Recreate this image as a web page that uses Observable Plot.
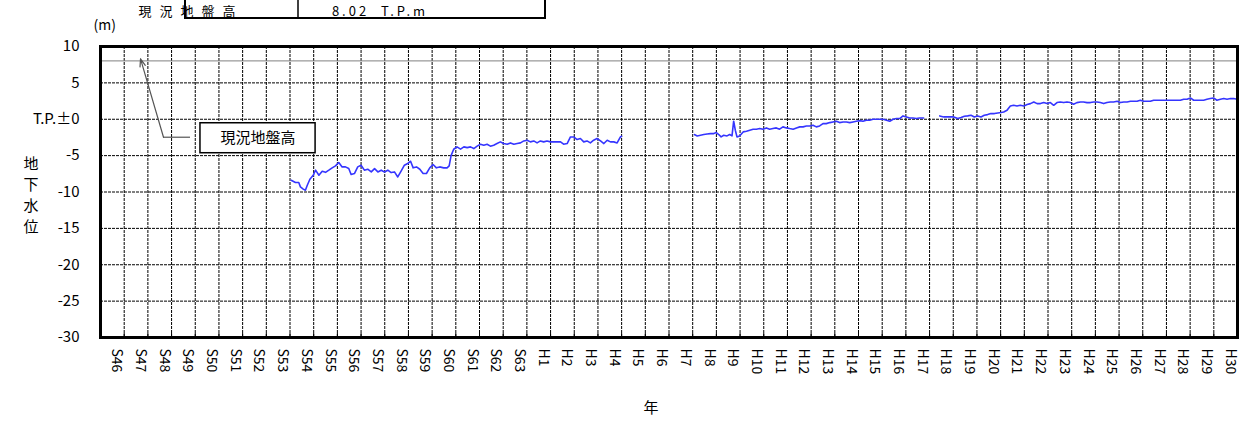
<!DOCTYPE html>
<html><head><meta charset="utf-8">
<script src="https://cdn.jsdelivr.net/npm/d3@7"></script>
<script src="https://cdn.jsdelivr.net/npm/@observablehq/plot@0.6"></script>
<style>body{margin:0;background:#fff;} #chart svg{display:block}</style>
</head><body><div id="chart"></div>
<script>
// ---- data ----
const yearLabels = ["S46","S47","S48","S49","S50","S51","S52","S53","S54","S55","S56","S57","S58","S59","S60","S61","S62","S63",
  "H1","H2","H3","H4","H5","H6","H7","H8","H9","H10","H11","H12","H13","H14","H15","H16","H17","H18","H19","H20",
  "H21","H22","H23","H24","H25","H26","H27","H28","H29","H30"];
const startYear = 1971; // S46
const yTicks = [10, 5, 0, -5, -10, -15, -20, -25, -30];
const yTickLabels = ["10", "5", "T.P.±0", "-5", "-10", "-15", "-20", "-25", "-30"];
const groundLevel = 8.02;
const groundLabel = "現況地盤高";
const groundValueText = "8.02  T.P.m";

// decimal year, groundwater level (T.P. m)
const seg1 = [[1979.05,-8.38],[1979.23,-8.7],[1979.37,-8.7],[1979.44,-9.3],[1979.56,-9.6],[1979.65,-9.75],[1979.73,-9.07],[1979.84,-8.24],[1979.98,-7.7],
[1980.08,-7.0],[1980.22,-7.7],[1980.36,-7.14],[1980.5,-7.3],[1980.64,-7.0],[1980.78,-6.68],[1980.92,-6.4],[1981.06,-5.95],[1981.2,-6.55],[1981.34,-6.55],
[1981.48,-6.78],[1981.58,-7.6],[1981.72,-7.46],[1981.86,-6.55],[1982.0,-6.32],[1982.14,-7.0],[1982.28,-6.87],[1982.43,-7.24],[1982.57,-6.78],[1982.71,-7.24],
[1982.85,-7.0],[1982.99,-7.24],[1983.13,-7.0],[1983.27,-7.33],[1983.41,-7.24],[1983.55,-7.93],[1983.69,-7.14],[1983.83,-6.32],[1983.97,-6.09],[1984.09,-5.77],
[1984.2,-6.68],[1984.34,-6.55],[1984.48,-6.87],[1984.62,-7.46],[1984.76,-7.46],[1984.9,-6.68],[1985.04,-6.22],[1985.18,-6.68],[1985.32,-6.55],[1985.49,-6.68],
[1985.63,-6.68],[1985.72,-6.4],[1985.8,-5.0],[1985.91,-4.12],[1986.05,-3.8],[1986.2,-4.1],[1986.34,-3.8],[1986.48,-3.9],[1986.62,-3.8],[1986.76,-4.03],[1986.9,-3.7],
[1987.04,-3.43],[1987.18,-3.57],[1987.32,-3.43],[1987.46,-3.7],[1987.6,-3.57],[1987.74,-3.34],[1987.88,-3.11],[1988.02,-3.34],[1988.17,-3.43],[1988.31,-3.25],
[1988.45,-3.43],[1988.59,-3.34],[1988.73,-3.25],[1988.87,-2.98],[1989.01,-2.88],[1989.15,-3.11],[1989.29,-2.98],[1989.43,-3.25],[1989.57,-2.98],[1989.71,-3.11],
[1989.85,-2.98],[1990.0,-3.11],[1990.14,-3.11],[1990.27,-3.11],[1990.42,-3.11],[1990.55,-3.43],[1990.7,-3.34],[1990.84,-2.43],[1990.98,-2.43],[1991.12,-2.79],
[1991.26,-2.65],[1991.4,-3.11],[1991.54,-2.98],[1991.68,-3.25],[1991.82,-2.88],[1991.96,-2.65],[1992.11,-2.98],[1992.25,-3.34],[1992.39,-2.88],[1992.53,-3.11],
[1992.67,-3.11],[1992.81,-3.25],[1992.95,-2.43],[1993.0,-2.34]];
const seg2 = [[1996.07,-2.1],[1996.19,-2.29],[1996.33,-2.2],[1996.47,-2.1],[1996.61,-2.02],[1996.75,-1.97],[1996.89,-1.97],[1997.0,-1.83],[1997.1,-2.1],
[1997.2,-2.43],[1997.31,-2.2],[1997.45,-2.29],[1997.56,-2.1],[1997.66,-2.29],[1997.73,-0.27],[1997.8,-1.51],[1997.87,-2.43],[1997.98,-2.29],[1998.13,-1.74],
[1998.27,-1.65],[1998.41,-1.51],[1998.55,-1.37],[1998.69,-1.37],[1998.83,-1.28],[1998.97,-1.37],[1999.11,-1.19],[1999.25,-1.37],[1999.39,-1.28],[1999.53,-1.19],
[1999.67,-1.37],[1999.81,-1.05],[1999.96,-1.19],[2000.09,-1.28],[2000.24,-1.37],[2000.38,-1.19],[2000.52,-1.05],[2000.66,-1.05],[2000.8,-0.92],[2000.94,-0.92],
[2001.08,-0.82],[2001.22,-1.05],[2001.36,-0.92],[2001.5,-0.6],[2001.64,-0.6],[2001.79,-0.46],[2001.92,-0.37],[2002.07,-0.27],[2002.2,-0.46],[2002.35,-0.37],
[2002.49,-0.37],[2002.63,-0.46],[2002.77,-0.37],[2002.91,-0.27],[2003.05,-0.19],[2003.19,-0.27],[2003.33,-0.14],[2003.47,-0.14],[2003.61,0.0],[2003.75,0.0],
[2003.9,0.0],[2004.04,0.0],[2004.18,-0.14],[2004.32,-0.27],[2004.46,0.0],[2004.6,0.1],[2004.74,0.1],[2004.88,0.46],[2005.02,0.32],[2005.16,0.18],[2005.3,0.18],
[2005.44,0.1],[2005.58,0.18],[2005.75,0.18]];
const seg3 = [[2006.43,0.46],[2006.6,0.32],[2006.81,0.32],[2007.02,0.32],[2007.19,0.1],[2007.33,0.23],[2007.47,0.41],[2007.61,0.46],[2007.75,0.55],[2007.89,0.32],
[2008.03,0.46],[2008.17,0.32],[2008.31,0.55],[2008.45,0.64],[2008.59,0.78],[2008.74,0.78],[2008.88,0.87],[2009.02,0.92],[2009.13,1.0],[2009.27,1.24],[2009.41,1.83],
[2009.55,1.92],[2009.69,1.83],[2009.83,1.92],[2009.98,1.83],[2010.12,2.02],[2010.26,2.15],[2010.4,2.38],[2010.54,2.15],[2010.68,2.15],[2010.82,2.29],[2010.96,2.15],
[2011.1,2.29],[2011.24,1.92],[2011.38,2.29],[2011.52,2.38],[2011.66,2.29],[2011.8,2.38],[2011.94,2.29],[2012.08,2.06],[2012.22,2.29],[2012.37,2.38],[2012.5,2.38],
[2012.65,2.29],[2012.79,2.29],[2012.93,2.38],[2013.07,2.38],[2013.21,2.29],[2013.35,2.15],[2013.49,2.29],[2013.63,2.38],[2013.77,2.38],[2013.92,2.47],[2014.06,2.29],
[2014.2,2.38],[2014.34,2.38],[2014.48,2.47],[2014.62,2.47],[2014.76,2.47],[2014.9,2.61],[2015.04,2.47],[2015.18,2.47],[2015.32,2.47],[2015.46,2.61],[2015.74,2.61],
[2016.03,2.61],[2016.31,2.61],[2016.59,2.61],[2016.73,2.75],[2016.87,2.75],[2017.01,2.93],[2017.15,2.61],[2017.43,2.61],[2017.57,2.61],[2017.71,2.75],[2017.85,2.84],
[2017.99,2.93],[2018.13,2.61],[2018.28,2.75],[2018.42,2.84],[2018.56,2.75],[2018.7,2.84],[2018.84,2.84],[2018.98,2.75]];

// annotation (data units)
const arrowTip = [1972.69, 8.3];
const arrowTail = [1973.66, -2.47];
const leaderEnd = 1974.8;
const calloutBox = {x1: 1975.22, x2: 1980.08, y1: -0.55, y2: -4.67};

// ---- build ----
const rows = [
  ...seg1.map(([t, v]) => ({t, v, seg: 1})),
  ...seg2.map(([t, v]) => ({t, v, seg: 2})),
  ...seg3.map(([t, v]) => ({t, v, seg: 3}))
];
const boundaries = d3.range(1, yearLabels.length).map(i => startYear + i);
const centers = yearLabels.map((_, i) => startYear + i + 0.5);
const hGrid = yTicks.filter(d => d > -30 && d < 10);
const font = "'Noto Sans CJK JP', sans-serif";

const plot = Plot.plot({
  width: 1241, height: 421,
  marginLeft: 100, marginRight: 4, marginTop: 46, marginBottom: 84,
  x: {domain: [startYear, startYear + yearLabels.length], axis: null},
  y: {domain: [-30, 10], axis: null},
  style: {fontFamily: font, fontSize: "13px", color: "#000", background: "#fff"},
  marks: [
    Plot.ruleX(boundaries, {stroke: "#000", strokeWidth: 1, strokeDasharray: "3,1"}),
    Plot.ruleY(hGrid, {stroke: "#000", strokeWidth: 1, strokeDasharray: "3,1"}),
    Plot.ruleX(boundaries, {y1: -30, y2: -29.45, stroke: "#000", strokeWidth: 1}),
    Plot.ruleY([groundLevel], {stroke: "#808080", strokeWidth: 1}),
    Plot.line(rows, {x: "t", y: "v", z: "seg", stroke: "#3535ff", strokeWidth: 1.6}),
    Plot.arrow([0], {x1: () => arrowTail[0], y1: () => arrowTail[1], x2: () => arrowTip[0], y2: () => arrowTip[1],
      stroke: "#555", strokeWidth: 1.2, headLength: 10, headAngle: 40, insetEnd: 0, insetStart: 0}),
    Plot.ruleY([arrowTail[1]], {x1: arrowTail[0], x2: leaderEnd, stroke: "#555", strokeWidth: 1.2}),
    Plot.rect([calloutBox], {x1: "x1", x2: "x2", y1: "y1", y2: "y2", fill: "#fff", stroke: "#000", strokeWidth: 1.5}),
    Plot.text([groundLabel], {x: (calloutBox.x1 + calloutBox.x2) / 2, y: (calloutBox.y1 + calloutBox.y2) / 2, fontSize: 15, fill: "#000"}),
    Plot.text(yTicks, {y: d => d, text: d => yTickLabels[yTicks.indexOf(d)], frameAnchor: "left", textAnchor: "end", dx: -21, fontSize: 15}),
    Plot.text(yearLabels, {x: centers, text: d => d, frameAnchor: "bottom", rotate: 90, textAnchor: "start", dy: 11, fontSize: 14}),
    Plot.text(["(m)"], {frameAnchor: "top-left", dx: -7, dy: -26, fontSize: 14}),
    Plot.text(["地\n下\n水\n位"], {frameAnchor: "left", dx: -77, dy: 2, fontSize: 15, lineHeight: 1.4}),
    Plot.text(["年"], {frameAnchor: "bottom", dx: -18, dy: 75, fontSize: 15}),
    Plot.frame({stroke: "#000", strokeWidth: 3})
  ]
});
document.getElementById("chart").append(plot);

// header box (top edge runs off the picture, as in the source)
const svg = d3.select(plot);
const hdr = svg.append("g");
hdr.append("rect").attr("x", 185).attr("y", -12).attr("width", 360).attr("height", 30)
  .attr("fill", "#fff").attr("stroke", "#000").attr("stroke-width", 2);
hdr.append("line").attr("x1", 298).attr("x2", 298).attr("y1", -12).attr("y2", 18)
  .attr("stroke", "#000").attr("stroke-width", 1.5);
hdr.append("text").attr("x", 191).attr("y", 15.5).attr("font-family", font).attr("font-size", 13)
  .attr("letter-spacing", 8).text(groundLabel);
hdr.append("text").attr("x", 380).attr("y", 15.5).attr("font-family", font).attr("font-size", 13)
  .attr("letter-spacing", 3).style("white-space", "pre").text(groundValueText);
</script>
</body></html>
